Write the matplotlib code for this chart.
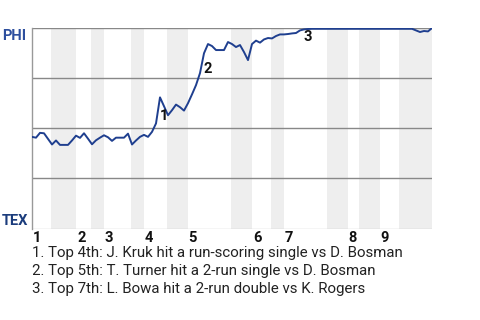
import matplotlib
matplotlib.use("Agg")
from matplotlib import pyplot as plt
import matplotlib.transforms as mtransforms

plt.rcParams["font.family"] = ["Roboto", "DejaVu Sans"]

# win probability for PHI (%), one value per play
wp = [45.7, 45.3, 47.7, 47.5, 44.7, 41.9, 43.9, 41.7, 41.7, 41.7,
      43.9, 46.3, 45.2, 47.5, 44.8, 42.0, 44.0, 45.3, 46.5, 45.5,
      43.7, 45.3, 45.3, 45.3, 47.3, 41.9, 43.9, 45.7, 46.7, 45.7,
      48.2, 52.4, 65.4, 61.0, 56.5, 59.0, 61.8, 60.5, 58.8, 62.5,
      66.9, 71.5, 77.5, 87.4, 92.0, 91.0, 89.0, 89.0, 89.0, 93.0,
      92.0, 90.5, 91.5, 88.0, 84.0, 92.0, 93.7, 92.7, 94.3, 95.0,
      94.8, 96.0, 96.8, 96.8, 97.0, 97.3, 97.5, 98.8, 99.3, 99.5,
      99.6, 99.6, 99.6, 99.6, 99.6, 99.6, 99.6, 99.6, 99.6, 99.6,
      99.6, 99.6, 99.6, 99.6, 99.6, 99.6, 99.6, 99.6, 99.6, 99.6,
      99.6, 99.6, 99.6, 99.6, 99.6, 99.6, 98.8, 98.0, 98.5, 98.3,
      100.0]

innings = ["1", "2", "3", "4", "5", "6", "7", "8", "9"]
inning_start = [0, 11, 17.9, 27.9, 38.9, 55, 62.9, 78.9, 86.9]
bottom_start = [4.75, 14.75, 24.75, 33.75, 49.75, 59.75, 73.75, 81.75, 91.75]
game_end = 100

# key plays: play index, label, label y
events = [32, 43, 68]
event_labels = ["1", "2", "3"]
event_label_y = [56, 79.5, 95.5]

notes = [
    "1. Top 4th: J. Kruk hit a run-scoring single vs D. Bosman",
    "2. Top 5th: T. Turner hit a 2-run single vs D. Bosman",
    "3. Top 7th: L. Bowa hit a 2-run double vs K. Rogers",
]

fig = plt.figure(figsize=(4.8, 3.2), dpi=100)
ax = fig.add_axes([32 / 480, 1 - 228.5 / 320, 400 / 480, 200.5 / 320])

# shaded bottom halves
ends = inning_start[1:] + [game_end]
for b, e in zip(bottom_start, ends):
    ax.axvspan(b, e, color="#eeeeee", lw=0, zorder=0)

for yv in [25, 50, 75, 100]:
    ax.axhline(yv, color="#888888", lw=1.0, zorder=1)
ax.axhline(0, color="#cccccc", lw=1.0, zorder=1)

ax.plot(range(len(wp)), wp, color="#1f3f8f", lw=1.4, zorder=3)

for i, lab, ly in zip(events, event_labels, event_label_y):
    ax.text(i + 1, ly, lab, ha="center", va="center", fontsize=10.5,
            fontweight="bold", color="#111111", zorder=4)

ax.set_xlim(0, game_end)
ax.set_ylim(0, 100)
for s in ["top", "right", "bottom"]:
    ax.spines[s].set_visible(False)
ax.spines["left"].set_color("#999999")
ax.spines["left"].set_linewidth(1.0)
ax.set_yticks([])

ax.set_xticks(inning_start)
ax.set_xticklabels(innings, fontsize=10.5, fontweight="bold", color="#111111")
for t in ax.get_xticklabels():
    t.set_ha("left")
ax.tick_params(axis="x", length=0, pad=2)
offset = mtransforms.ScaledTranslation(1 / 100, 0, fig.dpi_scale_trans)
for t in ax.get_xticklabels():
    t.set_transform(t.get_transform() + offset)

fig.text(2 / 480, 1 - 28.5 / 320, "PHI", ha="left", va="top", fontsize=10.5,
         fontweight="bold", color="#2d4f9e")
fig.text(2 / 480, 1 - 225 / 320, "TEX", ha="left", va="baseline", fontsize=10.5,
         fontweight="bold", color="#1b3c7c")

for k, n in enumerate(notes):
    fig.text(32 / 480, 1 - (253 + 18 * k) / 320, n, ha="left", va="center",
             fontsize=10.85, color="#222222")

fig.savefig("out.png", dpi=100)
